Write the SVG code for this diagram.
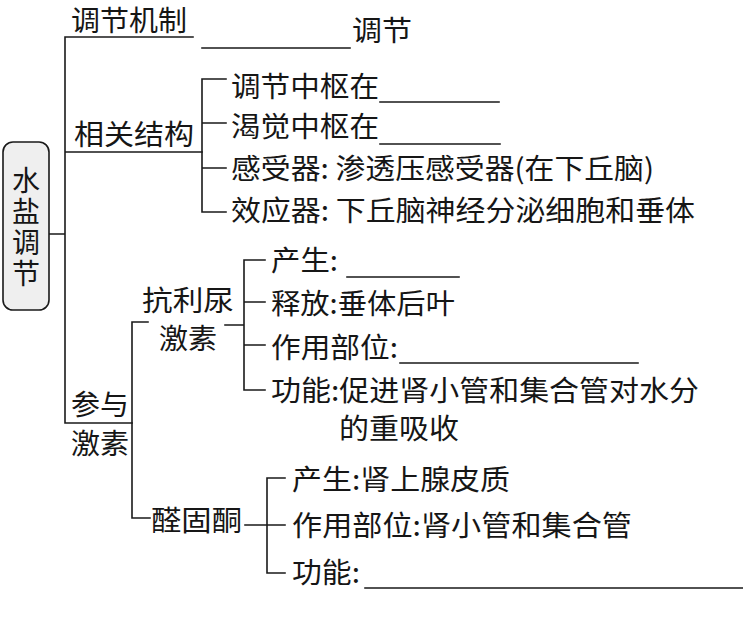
<svg xmlns="http://www.w3.org/2000/svg" width="743" height="619" viewBox="0 0 743 619">
<style>
  .t { font-family: "Noto Sans CJK SC", "Noto Sans CJK JP", sans-serif; font-size: 28px; fill: #161616; }
  .v { font-family: "Noto Sans CJK SC", "Noto Sans CJK JP", sans-serif; font-size: 28px; fill: #161616; writing-mode: vertical-rl; letter-spacing: 3px; }
  .c { stroke: #1a1a1a; stroke-width: 1.6; fill: none; stroke-linecap: square; }
  .box { fill: #efefef; stroke: #1a1a1a; stroke-width: 1.6; }
</style>
<rect width="743" height="619" fill="#ffffff"/>

<g id="connectors">
  <path class="c" d="M49,234 H65 M65,37 V423 M65,37 H193 M65,152 H202 M65,423 H132"/>
  <path class="c" d="M202,79 V212 M202,79 H226 M202,123 H226 M202,168 H226 M202,212 H226"/>
  <path class="c" d="M132,322 V518 M132,322 H148 M132,518 H150"/>
  <path class="c" d="M225,325 H244 M244,260 V390 M244,260 H265 M244,302 H265 M244,345 H265 M244,390 H265"/>
  <path class="c" d="M245,525 H267 M267,478 V573 M267,478 H285 M267,525 H285 M267,573 H285"/>
  <path class="c" d="M202,48 H350 M380,102 H499 M380,144 H500 M347,277 H459 M400,363 H638 M365,588 H743"/>
</g>

<g id="root">
  <rect class="box" x="3" y="142" width="46" height="168" rx="10"/>
  <text class="v" x="26" y="166">水盐调节</text>
</g>

<g id="mechanism">
  <text class="t" x="71" y="31" textLength="116" lengthAdjust="spacingAndGlyphs">调节机制</text>
  <text class="t" x="352" y="41" textLength="60" lengthAdjust="spacingAndGlyphs">调节</text>
</g>

<g id="structure">
  <text class="t" x="74" y="145" textLength="120" lengthAdjust="spacingAndGlyphs">相关结构</text>
  <text class="t" x="231" y="97" textLength="148" lengthAdjust="spacingAndGlyphs">调节中枢在</text>
  <text class="t" x="231" y="137" textLength="148" lengthAdjust="spacingAndGlyphs">渴觉中枢在</text>
  <text class="t" x="231" y="179" textLength="423" lengthAdjust="spacingAndGlyphs">感受器: 渗透压感受器(在下丘脑)</text>
  <text class="t" x="231" y="221" textLength="464" lengthAdjust="spacingAndGlyphs">效应器: 下丘脑神经分泌细胞和垂体</text>
</g>

<g id="hormones">
  <text class="t" x="71" y="415" textLength="58" lengthAdjust="spacingAndGlyphs">参与</text>
  <text class="t" x="71" y="454" textLength="58" lengthAdjust="spacingAndGlyphs">激素</text>
</g>

<g id="adh">
  <text class="t" x="142" y="311" textLength="92" lengthAdjust="spacingAndGlyphs">抗利尿</text>
  <text class="t" x="159" y="349" textLength="58" lengthAdjust="spacingAndGlyphs">激素</text>
  <text class="t" x="271" y="271" textLength="67" lengthAdjust="spacingAndGlyphs">产生:</text>
  <text class="t" x="271" y="314" textLength="184" lengthAdjust="spacingAndGlyphs">释放:垂体后叶</text>
  <text class="t" x="271" y="358" textLength="127" lengthAdjust="spacingAndGlyphs">作用部位:</text>
  <text class="t" x="271" y="401" textLength="428" lengthAdjust="spacingAndGlyphs">功能:促进肾小管和集合管对水分</text>
  <text class="t" x="339" y="439" textLength="120" lengthAdjust="spacingAndGlyphs">的重吸收</text>
</g>

<g id="aldosterone">
  <text class="t" x="151" y="531" textLength="91" lengthAdjust="spacingAndGlyphs">醛固酮</text>
  <text class="t" x="292" y="490" textLength="218" lengthAdjust="spacingAndGlyphs">产生:肾上腺皮质</text>
  <text class="t" x="292" y="536" textLength="340" lengthAdjust="spacingAndGlyphs">作用部位:肾小管和集合管</text>
  <text class="t" x="292" y="583" textLength="68" lengthAdjust="spacingAndGlyphs">功能:</text>
</g>
</svg>
